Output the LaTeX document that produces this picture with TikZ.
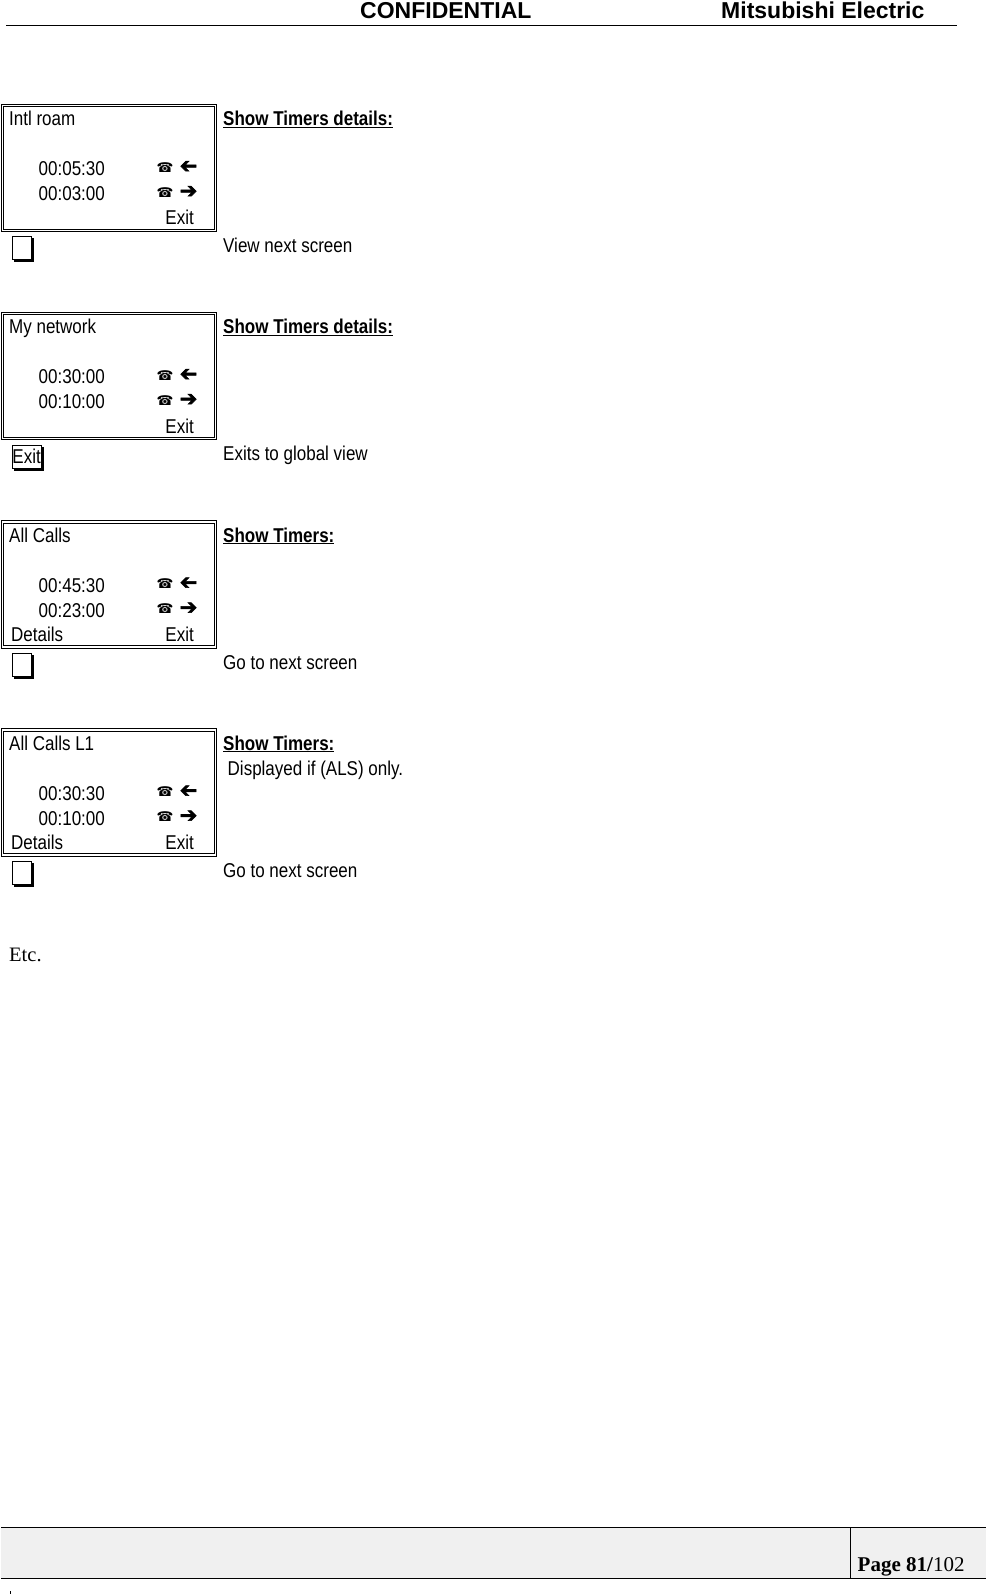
\documentclass[tikz,border=0pt]{standalone}
\usepackage{graphicx}
\usepackage{fontspec}
\setmainfont{Liberation Serif}
\newfontfamily\narrowfont[FakeStretch=0.85]{Liberation Sans}
\newfontfamily\headfont{Liberation Sans}
\newfontfamily\symfont{DejaVu Sans}
\newfontfamily\arrowfont[FakeBold=2.5]{DejaVu Sans}
\usetikzlibrary{shadows}

\begin{document}
\begin{tikzpicture}[x=1pt, y=-1pt,
			screen/.style={draw, double, double distance=1.6pt, line width=1pt, minimum width=213pt, minimum height=125pt, inner sep=0pt, anchor=north west},
			softkey/.style={draw, line width=0.9pt, fill=white, minimum width=19pt, minimum height=23pt, inner sep=0.5pt, anchor=north west, copy shadow={shadow xshift=2pt, shadow yshift=-2pt, fill=black, draw=black}},
			lbl/.style={font=\narrowfont\fontsize{20}{22}\selectfont, inner sep=0pt, anchor=base west},
			lble/.style={lbl, anchor=base east},
			phone/.style={font=\symfont\fontsize{13.5}{14}\selectfont, inner sep=0pt},
			pointer/.style={font=\arrowfont\fontsize{21}{22}\selectfont, inner sep=0pt}]
			%Bildbereich
			\useasboundingbox (0,0) rectangle (986,1594);
			% Kopfzeile
			\node[font=\headfont\bfseries\fontsize{23}{25}\selectfont, inner sep=0pt, anchor=base west] (conf) at (360,18.5) {CONFIDENTIAL};
			\node[font=\headfont\bfseries\fontsize{23}{25}\selectfont, inner sep=0pt, anchor=base west] (mitsu) at (721,18.5) {Mitsubishi Electric};
			\draw[line width=0.9pt] (6,25.5) -- (957,25.5);
			% Bildschirme
			\foreach \n/\yy/\ttl/\timein/\timeout/\soft/\head/\key/\desc in {
				a/103.5/{Intl roam}/00:05:30/00:03:00/{}/{Show Timers details:}/{}/{View next screen},
				b/311.5/{My network}/00:30:00/00:10:00/{}/{Show Timers details:}/Exit/{Exits to global view},
				c/520/{All Calls}/00:45:30/00:23:00/Details/{Show Timers:}/{}/{Go to next screen},
				d/728/{All Calls L1}/00:30:30/00:10:00/Details/{Show Timers:}/{}/{Go to next screen}}
			{
				\node[screen] (scr\n) at (2,\yy+1.5) {};
				\node[lbl] (ttl\n) at (9,\yy+22) {\ttl};
				\node[lbl] (in\n) at (38.5,\yy+72) {\timein};
				\node[lbl] (out\n) at (38.5,\yy+97) {\timeout};
				\node[phone] (phin\n) at (165,\yy+64) {☎};
				\node[phone] (phout\n) at (165,\yy+89) {☎};
				\node[pointer] (arin\n) at (188.5,\yy+63.5) {\reflectbox{➔}};
				\node[pointer] (arout\n) at (188.5,\yy+88.5) {➔};
				\node[lbl] (soft\n) at (11,\yy+121.5) {\soft};
				\node[lble] (exit\n) at (194,\yy+121.5) {Exit};
				\node[lbl] (head\n) at (223,\yy+22) {\textbf{\underline{\head}}};
				\node[softkey] (key\n) at (11.5,\yy+133) {\narrowfont\fontsize{20}{22}\selectfont\key};
				\node[lbl] (desc\n) at (223,\yy+149) {\desc};
			}
			% Zusatz
			\node[lbl] (alsnote) at (227.5,775) {Displayed if (ALS) only.};
			\node[font=\fontsize{20.5}{22}\selectfont, inner sep=0pt, anchor=west] (etc) at (9,955) {Etc.};
			% Fusszeile
			\fill[black!6] (1,1528) rectangle (986,1578);
			\draw[line width=1.8pt] (1,1527.5) -- (986,1527.5);
			\draw[line width=1pt] (1,1578) -- (986,1578);
			\draw[line width=0.7pt] (850.5,1527.5) -- (850.5,1578);
			\draw[line width=0.7pt] (10,1591) -- (10,1594);
			\node[font=\fontsize{21}{23}\selectfont, inner sep=0pt, anchor=base west] (page) at (857.5,1571) {\textbf{Page 81/}102};
		\end{tikzpicture}
\end{document}
